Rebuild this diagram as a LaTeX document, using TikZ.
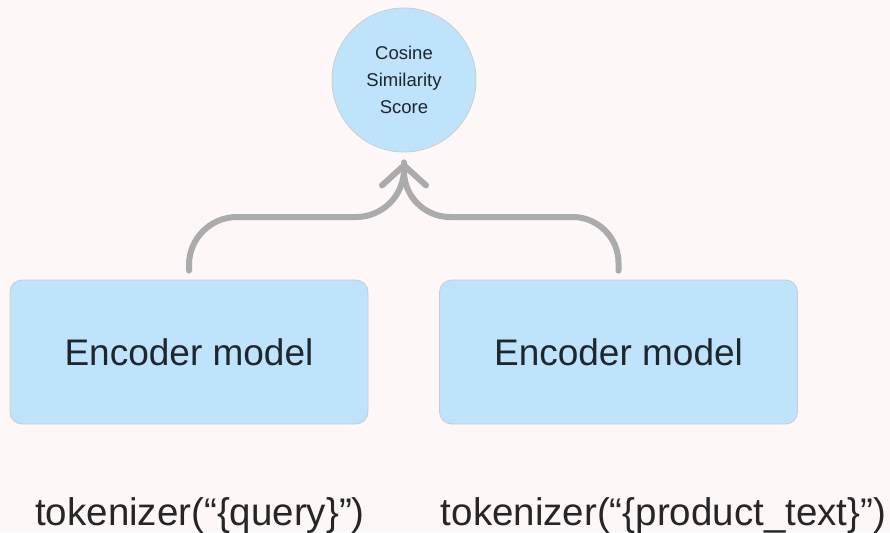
\documentclass[tikz,border=0pt]{standalone}
\usepackage{fontspec}
\setmainfont{Liberation Sans}
\usetikzlibrary{arrows.meta}
\definecolor{bgc}{RGB}{253,247,247}
\definecolor{boxc}{RGB}{190,227,250}
\definecolor{edgec}{RGB}{200,205,210}
\definecolor{linec}{RGB}{171,171,171}
\definecolor{txtc}{RGB}{30,38,46}
\tikzset{
  encbox/.style={draw=edgec, line width=0.8pt, fill=boxc, rounded corners=12pt, minimum width=358pt, minimum height=144pt, inner sep=0pt, text=txtc, font=\fontsize{37}{40}\selectfont},
  scorecirc/.style={circle, draw=edgec, line width=0.8pt, fill=boxc, minimum size=144pt, inner sep=0pt, text=txtc, align=center, font=\fontsize{18.5}{27}\selectfont},
  toklabel/.style={anchor=base, inner sep=0pt, text=black!85, font=\fontsize{38.5}{40}\selectfont},
  flow/.style={draw=linec, line width=6pt, line cap=round, line join=round},
  chev/.style={-{Straight Barb[length=20pt, width=44pt, line cap=round, line join=round]}}
}
\begin{document}
\begin{tikzpicture}[x=1pt, y=-1pt]
\useasboundingbox[fill=bgc] (0,0) rectangle (890,532);
\node[scorecirc] (score) at (404,80) {Cosine\\Similarity\\Score};
\node[encbox] (encL) at (189,352) {Encoder model};
\node[encbox] (encR) at (618.5,352) {Encoder model};
\node[toklabel] (tokL) at (200,525) {tokenizer(“\{query\}”)};
\node[toklabel] (tokR) at (663.5,525) {tokenizer(“\{product\_text\}”)};
\coordinate (tip) at ([yshift=-10pt]score.south);
\coordinate (join) at (score.south |- 0,217);
\draw[flow, rounded corners=48pt] ([yshift=9pt]encL.north) |- (join) -- (tip);
\draw[flow, rounded corners=46pt, chev] ([yshift=9pt]encR.north) |- (join) -- (tip);
\end{tikzpicture}
\end{document}
